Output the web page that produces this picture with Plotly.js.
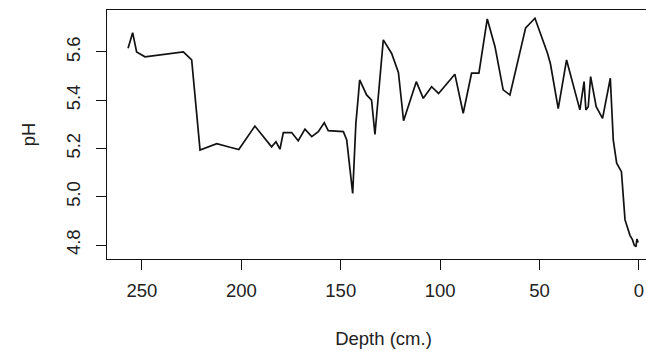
<!DOCTYPE html>
<html>
<head>
<meta charset="utf-8">
<script src="https://cdn.plot.ly/plotly-3.0.1.min.js"></script>
<style>
html, body { margin: 0; padding: 0; overflow: hidden; background: #fff; width: 646px; height: 351px; }
#chart { width: 660px; height: 351px; }
</style>
</head>
<body>
<div id="chart"></div>
<script>
// Depth (cm.) of each sample
const depth = [257, 254.7, 252.7, 248.5, 229.2, 225, 220.8, 212.4, 205.7, 201.3,
  193.2, 184.8, 182.6, 180.6, 178.9, 174.7, 171.4, 168, 164.6, 161.3,
  158.3, 156.3, 148.7, 147, 144, 142.4, 141.2, 140.5, 137, 134.5,
  132.8, 128.6, 124.4, 121, 118.4, 112, 108.5, 104.3, 100.8, 92.6,
  88.4, 84.2, 80.5, 76.3, 72.4, 68.3, 64.9, 57, 52.3, 46,
  44.5, 40.6, 36.4, 29.7, 27.6, 26.7, 25.5, 24.3, 21.5, 18.3,
  14.4, 12.9, 11.2, 8.8, 7.0, 5.5, 4.5, 3.2, 2.4, 1.5, 1.0, 0.4];
// pH measured at each depth
const pH = [5.615, 5.68, 5.60, 5.58, 5.60, 5.567, 5.194, 5.22, 5.205, 5.196,
  5.293, 5.207, 5.228, 5.197, 5.266, 5.266, 5.232, 5.28, 5.249, 5.27,
  5.307, 5.274, 5.27, 5.235, 5.014, 5.304, 5.415, 5.484, 5.422, 5.40,
  5.258, 5.65, 5.594, 5.515, 5.315, 5.477, 5.408, 5.456, 5.428, 5.508,
  5.346, 5.512, 5.512, 5.737, 5.622, 5.443, 5.422, 5.70, 5.74, 5.595,
  5.55, 5.365, 5.567, 5.36, 5.477, 5.36, 5.373, 5.498, 5.373, 5.325,
  5.491, 5.235, 5.139, 5.104, 4.904, 4.862, 4.84, 4.821, 4.80, 4.793, 4.825, 4.81];
const xTicks = [0, 50, 100, 150, 200, 250];
const yTicks = [4.8, 5.0, 5.2, 5.4, 5.6];

const font = {family: 'Liberation Sans, Arial, sans-serif', size: 18.5, color: '#222'};

Plotly.newPlot('chart', [{
  x: depth, y: pH, type: 'scatter', mode: 'lines',
  line: {color: '#111', width: 1.7}, hoverinfo: 'skip'
}], {
  width: 660, height: 351,
  margin: {l: 107, r: 0, t: 10, b: 92},
  paper_bgcolor: '#fff', plot_bgcolor: '#fff',
  showlegend: false,
  font: font,
  xaxis: {
    range: [267.6, -10.6], tickvals: xTicks, ticktext: xTicks.map(String),
    ticks: 'outside', ticklen: 10, tickwidth: 1, tickcolor: '#111',
    ticklabelstandoff: 5,
    showline: true, mirror: true, linecolor: '#111', linewidth: 1,
    showgrid: false, zeroline: false, tickfont: font,
    title: {text: 'Depth (cm.)', font: font, standoff: 31}
  },
  yaxis: {
    range: [4.742, 5.774], tickvals: yTicks, ticktext: yTicks.map(v => v.toFixed(1)),
    tickangle: -90,
    ticks: 'outside', ticklen: 10, tickwidth: 1, tickcolor: '#111',
    ticklabelstandoff: 9,
    showline: true, mirror: true, linecolor: '#111', linewidth: 1,
    showgrid: false, zeroline: false, tickfont: font,
    title: {text: 'pH', font: font, standoff: 22}
  }
}, {staticPlot: true, displayModeBar: false});
</script>
</body>
</html>
